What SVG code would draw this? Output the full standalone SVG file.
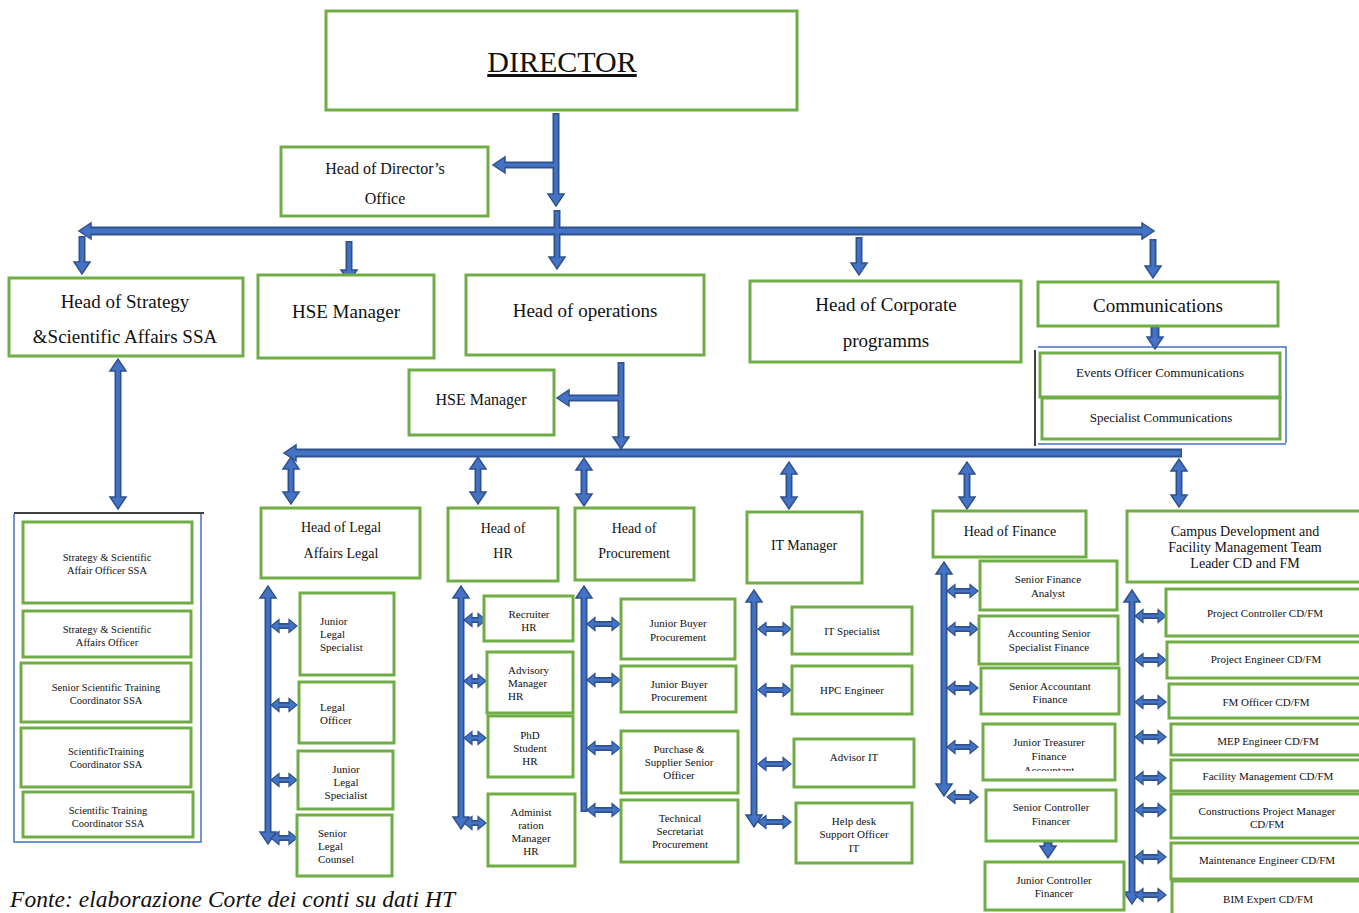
<svg xmlns="http://www.w3.org/2000/svg" width="1359" height="913" viewBox="0 0 1359 913">
<style>
.b{fill:#fff;stroke:#70AD47;stroke-width:3}
text{font-family:"Liberation Serif","Times New Roman",serif;fill:#111;text-anchor:middle}
.l{text-anchor:start}
.f30{font-size:30px}.f19{font-size:19px}.f16{font-size:16px}.f14{font-size:14px}.f13{font-size:13px}.f11{font-size:11px}.f10{font-size:10.5px}
.o{stroke:#2F528F;fill:none}
.i{stroke:#4472C4;fill:none}
.w9{stroke-width:9}.w5{stroke-width:5}
.w7{stroke-width:7}.w3{stroke-width:3.5}
.w6{stroke-width:6}.w2{stroke-width:2.6}
.frame{stroke:#4472C4;stroke-width:1.5;fill:none}
</style>
<defs>
<marker id="ah" markerUnits="userSpaceOnUse" markerWidth="16" markerHeight="20" refX="1" refY="9" orient="auto-start-reverse" overflow="visible">
<path d="M0,1 L12,9 L0,17 Z" fill="#4472C4" stroke="#2F528F" stroke-width="1.5"/>
</marker>
<marker id="as" markerUnits="userSpaceOnUse" markerWidth="12" markerHeight="16" refX="1" refY="7" orient="auto-start-reverse" overflow="visible">
<path d="M0,0.5 L8,7 L0,13.5 Z" fill="#4472C4" stroke="#2F528F" stroke-width="1.2"/>
</marker>
<clipPath id="jt"><rect x="984" y="725" width="130" height="46"/></clipPath>
</defs>

<!-- frames -->
<g id="frames">
<path class="frame" d="M1038,347 H1286 V443 M1038,444 H1286"/>
<line x1="1035" y1="350" x2="1035" y2="446" stroke="#000" stroke-width="1.5"/>
<path class="frame" d="M14,514 V842 H201 V514"/>
<line x1="14" y1="513" x2="204" y2="513" stroke="#000" stroke-width="1.5"/>
</g>

<g id="connectors">
<g class="o">
<line class="w7" x1="556" y1="113" x2="556" y2="195" marker-end="url(#ah)"/>
<line class="w7" x1="556" y1="165" x2="504" y2="165" marker-end="url(#ah)"/>
<line class="w7" x1="557" y1="210" x2="557" y2="258" marker-end="url(#ah)"/>
<line class="w9" x1="90" y1="231" x2="1143" y2="231" marker-start="url(#ah)" marker-end="url(#ah)"/>
<line class="w7" x1="82" y1="236" x2="82" y2="263" marker-end="url(#ah)"/>
<line class="w7" x1="349" y1="241" x2="349" y2="271" marker-end="url(#ah)"/>
<line class="w7" x1="859" y1="237" x2="859" y2="264" marker-end="url(#ah)"/>
<line class="w7" x1="1153" y1="239" x2="1153" y2="267" marker-end="url(#ah)"/>
<line class="w9" x1="1155" y1="326" x2="1155" y2="338" marker-end="url(#ah)"/>
<line class="w7" x1="118" y1="370" x2="118" y2="498" marker-start="url(#ah)" marker-end="url(#ah)"/>
<line class="w7" x1="621" y1="362" x2="621" y2="438" marker-end="url(#ah)"/>
<line class="w7" x1="621" y1="398" x2="568" y2="398" marker-end="url(#ah)"/>
<line class="w9" x1="295" y1="453" x2="1182" y2="453" marker-start="url(#ah)"/>
<line class="w7" x1="291" y1="468" x2="291" y2="493" marker-start="url(#ah)" marker-end="url(#ah)"/>
<line class="w7" x1="478" y1="468" x2="478" y2="493" marker-start="url(#ah)" marker-end="url(#ah)"/>
<line class="w7" x1="584" y1="469" x2="584" y2="495" marker-start="url(#ah)" marker-end="url(#ah)"/>
<line class="w7" x1="789" y1="473" x2="789" y2="498" marker-start="url(#ah)" marker-end="url(#ah)"/>
<line class="w7" x1="967" y1="473" x2="967" y2="498" marker-start="url(#ah)" marker-end="url(#ah)"/>
<line class="w7" x1="1179" y1="470" x2="1179" y2="496" marker-start="url(#ah)" marker-end="url(#ah)"/>
<line class="w7" x1="268" y1="597" x2="268" y2="833" marker-start="url(#ah)" marker-end="url(#ah)"/>
<line class="w7" x1="461" y1="597" x2="461" y2="818" marker-start="url(#ah)" marker-end="url(#ah)"/>
<line class="w7" x1="584" y1="597" x2="584" y2="812" marker-start="url(#ah)"/>
<line class="w7" x1="754" y1="601" x2="754" y2="816" marker-start="url(#ah)" marker-end="url(#ah)"/>
<line class="w7" x1="944" y1="573" x2="944" y2="785" marker-start="url(#ah)" marker-end="url(#ah)"/>
<line class="w7" x1="1132" y1="601" x2="1132" y2="893" marker-start="url(#ah)" marker-end="url(#ah)"/>
<line class="w9" x1="1048" y1="842" x2="1048" y2="847" marker-end="url(#ah)"/>
</g>
<g class="o w6">
<line x1="278" y1="626" x2="290" y2="626" marker-start="url(#as)" marker-end="url(#as)"/>
<line x1="278" y1="705" x2="290" y2="705" marker-start="url(#as)" marker-end="url(#as)"/>
<line x1="278" y1="780" x2="290" y2="780" marker-start="url(#as)" marker-end="url(#as)"/>
<line x1="278" y1="838" x2="290" y2="838" marker-start="url(#as)" marker-end="url(#as)"/>
<line x1="471" y1="620" x2="479" y2="620" marker-start="url(#as)" marker-end="url(#as)"/>
<line x1="471" y1="681" x2="479" y2="681" marker-start="url(#as)" marker-end="url(#as)"/>
<line x1="471" y1="738" x2="479" y2="738" marker-start="url(#as)" marker-end="url(#as)"/>
<line x1="471" y1="823" x2="479" y2="823" marker-start="url(#as)" marker-end="url(#as)"/>
<line x1="594" y1="624" x2="613" y2="624" marker-start="url(#as)" marker-end="url(#as)"/>
<line x1="594" y1="680" x2="613" y2="680" marker-start="url(#as)" marker-end="url(#as)"/>
<line x1="594" y1="748" x2="613" y2="748" marker-start="url(#as)" marker-end="url(#as)"/>
<line x1="594" y1="810" x2="613" y2="810" marker-start="url(#as)" marker-end="url(#as)"/>
<line x1="765" y1="629" x2="784" y2="629" marker-start="url(#as)" marker-end="url(#as)"/>
<line x1="765" y1="690" x2="784" y2="690" marker-start="url(#as)" marker-end="url(#as)"/>
<line x1="765" y1="764" x2="784" y2="764" marker-start="url(#as)" marker-end="url(#as)"/>
<line x1="765" y1="822" x2="784" y2="822" marker-start="url(#as)" marker-end="url(#as)"/>
<line x1="954" y1="591" x2="971" y2="591" marker-start="url(#as)" marker-end="url(#as)"/>
<line x1="954" y1="629" x2="971" y2="629" marker-start="url(#as)" marker-end="url(#as)"/>
<line x1="954" y1="688" x2="971" y2="688" marker-start="url(#as)" marker-end="url(#as)"/>
<line x1="954" y1="747" x2="971" y2="747" marker-start="url(#as)" marker-end="url(#as)"/>
<line x1="954" y1="797" x2="971" y2="797" marker-start="url(#as)" marker-end="url(#as)"/>
<line x1="1142" y1="616" x2="1159" y2="616" marker-start="url(#as)" marker-end="url(#as)"/>
<line x1="1142" y1="660" x2="1159" y2="660" marker-start="url(#as)" marker-end="url(#as)"/>
<line x1="1142" y1="702" x2="1159" y2="702" marker-start="url(#as)" marker-end="url(#as)"/>
<line x1="1142" y1="737" x2="1159" y2="737" marker-start="url(#as)" marker-end="url(#as)"/>
<line x1="1142" y1="778" x2="1159" y2="778" marker-start="url(#as)" marker-end="url(#as)"/>
<line x1="1142" y1="810" x2="1159" y2="810" marker-start="url(#as)" marker-end="url(#as)"/>
<line x1="1142" y1="857" x2="1159" y2="857" marker-start="url(#as)" marker-end="url(#as)"/>
<line x1="1142" y1="895" x2="1159" y2="895" marker-start="url(#as)" marker-end="url(#as)"/>
</g>
<g class="i">
<line class="w3" x1="556" y1="114.5" x2="556" y2="195"/>
<line class="w3" x1="556" y1="165" x2="504" y2="165"/>
<line class="w3" x1="557" y1="211.5" x2="557" y2="258"/>
<line class="w5" x1="90" y1="231" x2="1143" y2="231"/>
<line class="w3" x1="82" y1="237.5" x2="82" y2="263"/>
<line class="w3" x1="349" y1="242.5" x2="349" y2="271"/>
<line class="w3" x1="859" y1="238.5" x2="859" y2="264"/>
<line class="w3" x1="1153" y1="240.5" x2="1153" y2="267"/>
<line class="w5" x1="1155" y1="327.5" x2="1155" y2="338"/>
<line class="w3" x1="118" y1="370" x2="118" y2="498"/>
<line class="w3" x1="621" y1="363.5" x2="621" y2="438"/>
<line class="w3" x1="621" y1="398" x2="568" y2="398"/>
<line class="w5" x1="295" y1="453" x2="1180.5" y2="453"/>
<line class="w3" x1="291" y1="468" x2="291" y2="493"/>
<line class="w3" x1="478" y1="468" x2="478" y2="493"/>
<line class="w3" x1="584" y1="469" x2="584" y2="495"/>
<line class="w3" x1="789" y1="473" x2="789" y2="498"/>
<line class="w3" x1="967" y1="473" x2="967" y2="498"/>
<line class="w3" x1="1179" y1="470" x2="1179" y2="496"/>
<line class="w3" x1="268" y1="597" x2="268" y2="833"/>
<line class="w3" x1="461" y1="597" x2="461" y2="818"/>
<line class="w3" x1="584" y1="597" x2="584" y2="810.5"/>
<line class="w3" x1="754" y1="601" x2="754" y2="816"/>
<line class="w3" x1="944" y1="573" x2="944" y2="785"/>
<line class="w3" x1="1132" y1="601" x2="1132" y2="893"/>
<line class="w5" x1="1048" y1="843.5" x2="1048" y2="847"/>
</g>
<g class="i w2">
<line x1="278" y1="626" x2="290" y2="626"/><line x1="278" y1="705" x2="290" y2="705"/><line x1="278" y1="780" x2="290" y2="780"/><line x1="278" y1="838" x2="290" y2="838"/>
<line x1="471" y1="620" x2="479" y2="620"/><line x1="471" y1="681" x2="479" y2="681"/><line x1="471" y1="738" x2="479" y2="738"/><line x1="471" y1="823" x2="479" y2="823"/>
<line x1="594" y1="624" x2="613" y2="624"/><line x1="594" y1="680" x2="613" y2="680"/><line x1="594" y1="748" x2="613" y2="748"/><line x1="594" y1="810" x2="613" y2="810"/>
<line x1="765" y1="629" x2="784" y2="629"/><line x1="765" y1="690" x2="784" y2="690"/><line x1="765" y1="764" x2="784" y2="764"/><line x1="765" y1="822" x2="784" y2="822"/>
<line x1="954" y1="591" x2="971" y2="591"/><line x1="954" y1="629" x2="971" y2="629"/><line x1="954" y1="688" x2="971" y2="688"/><line x1="954" y1="747" x2="971" y2="747"/><line x1="954" y1="797" x2="971" y2="797"/>
<line x1="1142" y1="616" x2="1159" y2="616"/><line x1="1142" y1="660" x2="1159" y2="660"/><line x1="1142" y1="702" x2="1159" y2="702"/><line x1="1142" y1="737" x2="1159" y2="737"/><line x1="1142" y1="778" x2="1159" y2="778"/><line x1="1142" y1="810" x2="1159" y2="810"/><line x1="1142" y1="857" x2="1159" y2="857"/><line x1="1142" y1="895" x2="1159" y2="895"/>
</g>
</g>

<g id="director"><rect class="b" x="326" y="11" width="471" height="99"/><text class="f30" x="562" y="72" text-decoration="underline">DIRECTOR</text></g>
<g id="dir-office"><rect class="b" x="281" y="147" width="207" height="69"/><text class="f16" x="385" y="174">Head of Director’s</text><text class="f16" x="385" y="204">Office</text></g>
<g id="ssa-head"><rect class="b" x="9" y="278" width="234" height="78"/><text class="f19" x="125" y="308">Head of Strategy</text><text class="f19" x="125" y="343">&amp;Scientific Affairs SSA</text></g>
<g id="hse-top"><rect class="b" x="258" y="275" width="176" height="83"/><text class="f19" x="346" y="318">HSE Manager</text></g>
<g id="operations"><rect class="b" x="466" y="275" width="238" height="80"/><text class="f19" x="585" y="317">Head of operations</text></g>
<g id="corporate"><rect class="b" x="750" y="281" width="271" height="81"/><text class="f19" x="886" y="311">Head of Corporate</text><text class="f19" x="886" y="347">programms</text></g>
<g id="comms"><rect class="b" x="1038" y="282" width="240" height="44"/><text class="f19" x="1158" y="312">Communications</text></g>
<g id="events"><rect class="b" x="1040" y="353" width="240" height="44"/><text class="f13" x="1160" y="377">Events Officer Communications</text></g>
<g id="spec-comms"><rect class="b" x="1042" y="398" width="238" height="41"/><text class="f13" x="1161" y="422">Specialist Communications</text></g>
<g id="hse-mid"><rect class="b" x="409" y="370" width="145" height="65"/><text class="f16" x="481" y="405">HSE Manager</text></g>

<g id="ssa1"><rect class="b" x="23" y="522" width="169" height="81"/><text class="f10" x="107" y="561">Strategy &amp; Scientific</text><text class="f10" x="107" y="574">Affair Officer SSA</text></g>
<g id="ssa2"><rect class="b" x="23" y="611" width="168" height="46"/><text class="f10" x="107" y="633">Strategy &amp; Scientific</text><text class="f10" x="107" y="646">Affairs Officer</text></g>
<g id="ssa3"><rect class="b" x="21" y="663" width="170" height="59"/><text class="f10" x="106" y="691">Senior Scientific Training</text><text class="f10" x="106" y="704">Coordinator SSA</text></g>
<g id="ssa4"><rect class="b" x="21" y="728" width="170" height="59"/><text class="f10" x="106" y="755">ScientificTraining</text><text class="f10" x="106" y="768">Coordinator SSA</text></g>
<g id="ssa5"><rect class="b" x="23" y="792" width="170" height="45"/><text class="f10" x="108" y="814">Scientific Training</text><text class="f10" x="108" y="827">Coordinator SSA</text></g>

<g id="legal-head"><rect class="b" x="261" y="508" width="159" height="70"/><text class="f14" x="341" y="532">Head of Legal</text><text class="f14" x="341" y="558">Affairs Legal</text></g>
<g id="legal1"><rect class="b" x="300" y="593" width="94" height="82"/><text class="f11 l" x="320" y="625">Junior</text><text class="f11 l" x="320" y="638">Legal</text><text class="f11 l" x="320" y="651">Specialist</text></g>
<g id="legal2"><rect class="b" x="299" y="682" width="95" height="61"/><text class="f11 l" x="320" y="711">Legal</text><text class="f11 l" x="320" y="724">Officer</text></g>
<g id="legal3"><rect class="b" x="298" y="751" width="95" height="58"/><text class="f11" x="346" y="773">Junior</text><text class="f11" x="346" y="786">Legal</text><text class="f11" x="346" y="799">Specialist</text></g>
<g id="legal4"><rect class="b" x="297" y="815" width="95" height="61"/><text class="f11 l" x="318" y="837">Senior</text><text class="f11 l" x="318" y="850">Legal</text><text class="f11 l" x="318" y="863">Counsel</text></g>

<g id="hr-head"><rect class="b" x="448" y="508" width="110" height="73"/><text class="f14" x="503" y="533">Head of</text><text class="f14" x="503" y="558">HR</text></g>
<g id="hr1"><rect class="b" x="484" y="596" width="89" height="45"/><text class="f11" x="529" y="618">Recruiter</text><text class="f11" x="529" y="631">HR</text></g>
<g id="hr2"><rect class="b" x="487" y="652" width="86" height="61"/><text class="f11 l" x="508" y="674">Advisory</text><text class="f11 l" x="508" y="687">Manager</text><text class="f11 l" x="508" y="700">HR</text></g>
<g id="hr3"><rect class="b" x="488" y="716" width="85" height="61"/><text class="f11" x="530" y="739">PhD</text><text class="f11" x="530" y="752">Student</text><text class="f11" x="530" y="765">HR</text></g>
<g id="hr4"><rect class="b" x="488" y="794" width="87" height="72"/><text class="f11" x="531" y="816">Administ</text><text class="f11" x="531" y="829">ration</text><text class="f11" x="531" y="842">Manager</text><text class="f11" x="531" y="855">HR</text></g>

<g id="proc-head"><rect class="b" x="575" y="508" width="119" height="72"/><text class="f14" x="634" y="533">Head of</text><text class="f14" x="634" y="558">Procurement</text></g>
<g id="proc1"><rect class="b" x="621" y="599" width="114" height="60"/><text class="f11" x="678" y="627">Junior Buyer</text><text class="f11" x="678" y="641">Procurement</text></g>
<g id="proc2"><rect class="b" x="621" y="666" width="115" height="46"/><text class="f11" x="679" y="688">Junior Buyer</text><text class="f11" x="679" y="701">Procurement</text></g>
<g id="proc3"><rect class="b" x="621" y="731" width="117" height="62"/><text class="f11" x="679" y="753">Purchase &amp;</text><text class="f11" x="679" y="766">Supplier Senior</text><text class="f11" x="679" y="779">Officer</text></g>
<g id="proc4"><rect class="b" x="621" y="800" width="117" height="62"/><text class="f11" x="680" y="822">Technical</text><text class="f11" x="680" y="835">Secretariat</text><text class="f11" x="680" y="848">Procurement</text></g>

<g id="it-head"><rect class="b" x="747" y="512" width="115" height="71"/><text class="f14" x="804" y="550">IT Manager</text></g>
<g id="it1"><rect class="b" x="792" y="607" width="120" height="47"/><text class="f11" x="852" y="635">IT Specialist</text></g>
<g id="it2"><rect class="b" x="792" y="666" width="120" height="48"/><text class="f11" x="852" y="694">HPC Engineer</text></g>
<g id="it3"><rect class="b" x="794" y="739" width="120" height="48"/><text class="f11" x="854" y="761">Advisor IT</text></g>
<g id="it4"><rect class="b" x="796" y="803" width="116" height="60"/><text class="f11" x="854" y="825">Help desk</text><text class="f11" x="854" y="838">Support Officer</text><text class="f11" x="854" y="852">IT</text></g>

<g id="fin-head"><rect class="b" x="933" y="511" width="153" height="46"/><text class="f14" x="1010" y="536">Head of Finance</text></g>
<g id="fin1"><rect class="b" x="980" y="561" width="137" height="49"/><text class="f11" x="1048" y="583">Senior Finance</text><text class="f11" x="1048" y="597">Analyst</text></g>
<g id="fin2"><rect class="b" x="979" y="616" width="139" height="48"/><text class="f11" x="1049" y="637">Accounting Senior</text><text class="f11" x="1049" y="651">Specialist Finance</text></g>
<g id="fin3"><rect class="b" x="981" y="668" width="138" height="46"/><text class="f11" x="1050" y="690">Senior Accountant</text><text class="f11" x="1050" y="703">Finance</text></g>
<g id="fin4"><rect class="b" x="983" y="724" width="132" height="56"/><g clip-path="url(#jt)"><text class="f11" x="1049" y="746">Junior Treasurer</text><text class="f11" x="1049" y="760">Finance</text><text class="f11" x="1049" y="774">Accountant</text></g></g>
<g id="fin5"><rect class="b" x="986" y="790" width="130" height="51"/><text class="f11" x="1051" y="811">Senior Controller</text><text class="f11" x="1051" y="825">Financer</text></g>
<g id="fin6"><rect class="b" x="985" y="862" width="139" height="48"/><text class="f11" x="1054" y="884">Junior Controller</text><text class="f11" x="1054" y="897">Financer</text></g>

<g id="cdfm-head"><rect class="b" x="1127" y="511" width="245" height="71"/><text class="f14" x="1245" y="536">Campus Development and</text><text class="f14" x="1245" y="552">Facility Management Team</text><text class="f14" x="1245" y="568">Leader CD and FM</text></g>
<g id="cdfm1"><rect class="b" x="1166" y="589" width="206" height="47"/><text class="f11" x="1265" y="617">Project Controller CD/FM</text></g>
<g id="cdfm2"><rect class="b" x="1167" y="642" width="205" height="36"/><text class="f11" x="1266" y="663">Project Engineer CD/FM</text></g>
<g id="cdfm3"><rect class="b" x="1169" y="684" width="203" height="34"/><text class="f11" x="1266" y="706">FM Officer CD/FM</text></g>
<g id="cdfm4"><rect class="b" x="1171" y="724" width="201" height="31"/><text class="f11" x="1268" y="745">MEP Engineer CD/FM</text></g>
<g id="cdfm5"><rect class="b" x="1171" y="760" width="201" height="31"/><text class="f11" x="1268" y="780">Facility Management CD/FM</text></g>
<g id="cdfm6"><rect class="b" x="1171" y="794" width="201" height="44"/><text class="f11" x="1267" y="815">Constructions Project Manager</text><text class="f11" x="1267" y="828">CD/FM</text></g>
<g id="cdfm7"><rect class="b" x="1171" y="843" width="201" height="36"/><text class="f11" x="1267" y="864">Maintenance Engineer CD/FM</text></g>
<g id="cdfm8"><rect class="b" x="1172" y="881" width="200" height="40"/><text class="f11" x="1268" y="903">BIM Expert CD/FM</text></g>

<text x="10" y="907" class="l" font-size="23.5" font-style="italic" textLength="445" lengthAdjust="spacing">Fonte: elaborazione Corte dei conti su dati HT</text>
</svg>
